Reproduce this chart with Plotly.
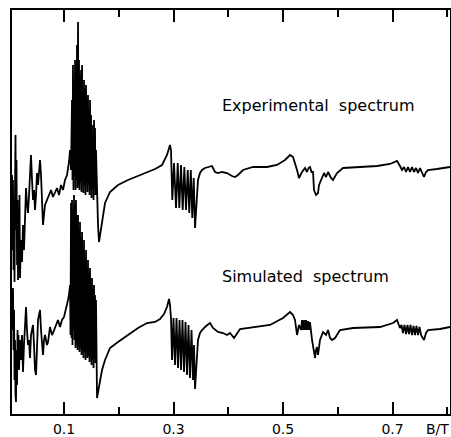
import plotly.graph_objects as go

# Magnetic field (T) and signal (arbitrary units, baseline ~0)
exp_B = [0.0050,0.0059,0.0068,0.0078,0.0087,0.0096,0.0105,0.0114,0.0123,0.0132,0.0142,0.0151,0.0160,0.0169,0.0178,0.0187,0.0196,
         0.0215,0.0233,0.0251,0.0269,0.0288,0.0306,0.0324,0.0342,0.0361,0.0379,0.0397,0.0416,0.0434,0.0452,0.0470,0.0489,0.0507,
         0.0525,0.0543,0.0562,0.0580,0.0598,0.0616,0.0653,0.0689,0.0726,0.0763,0.0799,0.0836,0.0872,0.0909,0.0945,0.0982,0.1018,
         0.1055,0.1091,0.1110,0.1128,0.1146,0.1155,0.1164,0.1173,0.1183,0.1192,0.1201,0.1210,0.1219,0.1228,0.1237,0.1247,0.1256,
         0.1265,0.1274,0.1283,0.1292,0.1301,0.1311,0.1320,0.1329,0.1338,0.1347,0.1356,0.1365,0.1374,0.1384,0.1393,0.1402,0.1411,
         0.1420,0.1429,0.1438,0.1447,0.1457,0.1466,0.1475,0.1484,0.1493,0.1502,0.1511,0.1521,0.1530,0.1539,0.1548,0.1557,0.1566,
         0.1575,0.1584,0.1603,0.1621,0.1639,0.1658,0.1694,0.1749,0.1840,0.1986,0.2169,0.2352,0.2516,0.2662,0.2790,0.2881,0.2936,
         0.2954,0.2978,0.3009,0.3046,0.3077,0.3106,0.3137,0.3168,0.3198,0.3228,0.3260,0.3288,0.3316,0.3343,0.3369,0.3393,0.3420,
         0.3447,0.3484,0.3521,0.3575,0.3630,0.3703,0.3758,0.3813,0.3886,0.3977,0.4068,0.4123,0.4178,0.4269,0.4452,0.4708,0.4890,
         0.5037,0.5128,0.5183,0.5256,0.5292,0.5347,0.5384,0.5402,0.5438,0.5466,0.5493,0.5521,0.5548,0.5566,0.5603,0.5639,0.5658,
         0.5712,0.5749,0.5786,0.5822,0.5877,0.5913,0.5986,0.6096,0.6406,0.6717,0.6954,0.7082,0.7137,0.7174,0.7210,0.7247,0.7283,
         0.7320,0.7356,0.7393,0.7429,0.7466,0.7502,0.7539,0.7575,0.7612,0.7648,0.7813,0.7995,0.8050]
exp_signal = [-7,-82,-12,-102,-32,-114,-22,33,-62,8,-97,-32,-112,-47,-94,-27,-110,
              -72,-94,-57,-82,-32,-20,-37,-45,-27,-7,13,-12,-32,-22,-42,-27,-5,
              -17,-2,8,-7,-47,-57,-37,-32,-27,-22,-29,-24,-20,-27,-17,-22,-12,
              -7,6,18,-2,68,-12,103,-22,78,-7,108,-22,88,-12,123,-20,146,
              -17,108,-22,93,-15,98,-24,103,-12,73,-25,88,-17,80,-27,83,-14,
              68,-24,73,-17,58,-27,68,-22,53,-30,43,-22,33,-32,48,-17,40,
              -27,18,-32,-57,-74,-67,-55,-35,-24,-17,-12,-8,-4,-1,3,13,23,
              18,-32,5,-40,5,-40,3,-42,1,-42,-2,-45,-2,-50,-10,-60,-32,
              -12,-5,-2,0,1,2,-4,-5,-4,-5,-8,-9,-7,-2,1,1,3,
              8,13,11,-2,-10,-4,-2,0,-4,0,1,-4,-4,-22,-27,-25,-17,
              -10,-5,-9,-4,-10,-12,-5,0,1,2,4,7,2,-2,1,-4,1,
              -4,1,-4,0,-5,0,-5,-9,-4,-2,-1,0,1]

sim_B = [0.0050,0.0059,0.0068,0.0078,0.0087,0.0096,0.0105,0.0114,0.0123,0.0132,0.0142,0.0151,0.0160,0.0169,0.0178,0.0196,
         0.0215,0.0233,0.0251,0.0269,0.0288,0.0306,0.0324,0.0342,0.0361,0.0379,0.0397,0.0416,0.0434,0.0452,0.0470,0.0489,
         0.0507,0.0525,0.0543,0.0562,0.0580,0.0598,0.0616,0.0635,0.0653,0.0689,0.0708,0.0744,0.0781,0.0799,0.0836,0.0872,
         0.0890,0.0927,0.0963,0.1000,0.1018,0.1055,0.1073,0.1091,0.1110,0.1119,0.1128,0.1137,0.1146,0.1155,0.1164,0.1173,
         0.1183,0.1192,0.1201,0.1210,0.1219,0.1228,0.1237,0.1247,0.1256,0.1265,0.1274,0.1283,0.1292,0.1301,0.1311,0.1320,
         0.1329,0.1338,0.1347,0.1356,0.1365,0.1374,0.1384,0.1393,0.1402,0.1411,0.1420,0.1429,0.1438,0.1447,0.1457,0.1466,
         0.1475,0.1484,0.1493,0.1502,0.1511,0.1521,0.1530,0.1539,0.1548,0.1557,0.1566,0.1575,0.1584,0.1603,0.1621,0.1658,
         0.1694,0.1749,0.1840,0.1986,0.2169,0.2352,0.2516,0.2662,0.2753,0.2826,0.2881,0.2918,0.2936,0.2954,0.2973,0.3000,
         0.3027,0.3055,0.3082,0.3110,0.3137,0.3164,0.3192,0.3219,0.3247,0.3274,0.3301,0.3329,0.3356,0.3374,0.3393,0.3411,
         0.3447,0.3484,0.3521,0.3594,0.3667,0.3721,0.3813,0.3904,0.3977,0.4032,0.4105,0.4215,0.4452,0.4763,0.5000,0.5128,
         0.5183,0.5219,0.5256,0.5292,0.5329,0.5347,0.5365,0.5384,0.5402,0.5420,0.5438,0.5457,0.5475,0.5493,0.5530,0.5566,
         0.5585,0.5603,0.5621,0.5639,0.5658,0.5676,0.5731,0.5786,0.5822,0.5858,0.5895,0.5950,0.6041,0.6279,0.6772,0.7009,
         0.7082,0.7137,0.7164,0.7192,0.7219,0.7247,0.7274,0.7301,0.7329,0.7356,0.7384,0.7411,0.7438,0.7466,0.7493,0.7521,
         0.7575,0.7612,0.7648,0.7868,0.8050]
sim_signal = [-2,28,40,-22,18,-52,-12,-67,-74,-22,-57,-2,-37,-7,-42,-12,
              -32,-7,-44,-17,-2,21,-2,-17,-12,-30,-7,-2,3,-17,-42,-47,
              -12,8,13,18,-2,-17,-27,-12,-7,-17,-14,1,-7,-5,1,6,
              8,1,8,11,15,21,28,33,43,-7,125,-10,128,-17,118,-2,
              133,-12,123,-20,128,-17,113,-22,113,-19,98,-24,106,-20,90,-27,
              96,-22,80,-30,88,-24,70,-32,78,-25,60,-30,68,-28,55,-34,
              60,-30,45,-37,50,-32,38,-40,43,-30,33,-35,28,-70,-64,-52,
              -42,-32,-20,-14,-7,0,5,6,9,14,21,29,23,10,-32,10,
              -37,10,-40,8,-42,8,-44,6,-47,3,-50,-2,-52,-17,-61,-42,
              -12,-5,-2,2,5,0,-4,-5,-7,-5,-10,-1,1,3,10,16,
              13,8,-7,3,-2,8,-2,8,-2,8,-2,7,-2,6,-12,-24,
              -30,-22,-19,-27,-17,-12,-4,-7,-2,-10,-12,-10,-2,0,1,5,
              8,0,3,-5,3,-6,3,-6,3,-7,2,-7,2,-7,1,-7,
              -12,-5,-2,-1,1]

tick_vals = [0.1, 0.3, 0.5, 0.7]
tick_text = ["0.1", "0.3", "0.5", "0.7"]
minor_tick_vals = [0.2, 0.4, 0.6, 0.8]

EXP_OFFSET = 246
SIM_OFFSET = 86

fig = go.Figure()
fig.add_trace(go.Scatter(x=exp_B, y=[v + EXP_OFFSET for v in exp_signal], mode="lines",
                         line=dict(color="black", width=1.8), name="Experimental spectrum"))
fig.add_trace(go.Scatter(x=sim_B, y=[v + SIM_OFFSET for v in sim_signal], mode="lines",
                         line=dict(color="black", width=1.8), name="Simulated spectrum"))

fig.add_annotation(x=0.385, y=309, xref="x", yref="y", text="Experimental  spectrum", showarrow=False,
                   xanchor="left", yanchor="middle", font=dict(family="DejaVu Sans", size=16, color="black"))
fig.add_annotation(x=0.385, y=138, xref="x", yref="y", text="Simulated  spectrum", showarrow=False,
                   xanchor="left", yanchor="middle", font=dict(family="DejaVu Sans", size=16, color="black"))
fig.add_annotation(x=0.783, y=0, xref="x", yref="paper", text="B/T", showarrow=False,
                   xanchor="center", yanchor="top", yshift=-5,
                   font=dict(family="DejaVu Sans", size=14, color="black"))

fig.update_layout(
    width=451, height=437,
    margin=dict(l=12, r=1, t=10, b=23),
    paper_bgcolor="white", plot_bgcolor="white",
    showlegend=False,
    xaxis=dict(range=[0.005, 0.805], tickvals=tick_vals, ticktext=tick_text,
               automargin=False,
               ticks="inside", ticklen=12, tickwidth=1.5, tickcolor="black",
               ticklabelstandoff=1,
               showline=True, linecolor="black", linewidth=1.5, mirror="ticks",
               showgrid=False, zeroline=False,
               tickfont=dict(family="DejaVu Sans", size=14, color="black"),
               minor=dict(tickvals=minor_tick_vals, ticks="inside", ticklen=7,
                          tickwidth=1.5, tickcolor="black", showgrid=False)),
    yaxis=dict(range=[0, 404], showticklabels=False, ticks="", showgrid=False, zeroline=False,
               automargin=False,
               showline=True, linecolor="black", linewidth=1.5, mirror=True),
)

fig.write_html("out.html", config={"displayModeBar": False},
               post_script="document.body.style.margin='0';document.body.style.overflow='hidden';")
